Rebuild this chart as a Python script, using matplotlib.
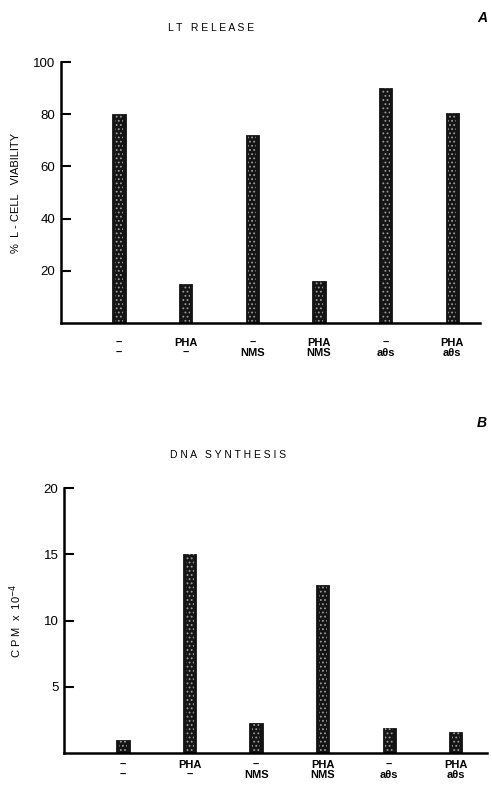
import matplotlib
matplotlib.use("Agg")
import matplotlib.pyplot as plt

plt.rcParams['font.family'] = ['Liberation Sans', 'DejaVu Sans']
plt.rcParams['hatch.linewidth'] = 0.8

conditions = ["–\n–", "PHA\n–", "–\nNMS", "PHA\nNMS", "–\naθs", "PHA\naθs"]
viability = [80, 15, 72, 16, 90, 80.5]
cpm = [1.0, 15.0, 2.3, 12.7, 1.9, 1.6]


def stipple_bars(ax, vals):
    x = range(len(vals))
    ax.bar(x, vals, width=0.2, color="#141414", edgecolor="#141414", linewidth=0.6)
    ax.bar(x, vals, width=0.12, color="none", edgecolor="#9a9a9a", hatch="....", linewidth=0)


def style(ax, ymax, ticks, xpad):
    for s in ("top", "right"):
        ax.spines[s].set_visible(False)
    ax.spines["left"].set_linewidth(1.8)
    ax.spines["bottom"].set_linewidth(1.8)
    ax.set_ylim(0, ymax)
    ax.set_yticks(ticks)
    ax.tick_params(axis="y", direction="in", length=7, width=1.5, labelsize=9.5, pad=4)
    ax.set_xticks(range(len(conditions)))
    ax.set_xticklabels(conditions, fontsize=8, fontweight="bold", linespacing=0.95)
    ax.tick_params(axis="x", length=0, pad=xpad)


fig = plt.figure(figsize=(4.92, 7.87), dpi=100)

axA = fig.add_axes([0.124, 0.5896, 0.852, 0.3316])
stipple_bars(axA, viability)
style(axA, 100, [20, 40, 60, 80, 100], 11)
axA.set_xlim(-0.87, 5.42)
axA.set_ylabel("%  L - CELL   VIABILITY", fontsize=8, labelpad=9)
fig.text(0.43, 0.964, "L T   R E L E A S E", fontsize=7.5, ha="center", va="center")
fig.text(0.98, 0.977, "A", fontsize=10, fontweight="bold", fontstyle="italic", ha="center", va="center")

axB = fig.add_axes([0.130, 0.0432, 0.860, 0.3367])
stipple_bars(axB, cpm)
style(axB, 20, [5, 10, 15, 20], 5)
axB.set_xlim(-0.886, 5.47)
axB.set_ylabel("C P M  x  10$^{-4}$", fontsize=8, labelpad=14)
fig.text(0.463, 0.422, "D N A   S Y N T H E S I S", fontsize=7.5, ha="center", va="center")
fig.text(0.98, 0.462, "B", fontsize=10, fontweight="bold", fontstyle="italic", ha="center", va="center")

fig.savefig("out.png", dpi=100)
